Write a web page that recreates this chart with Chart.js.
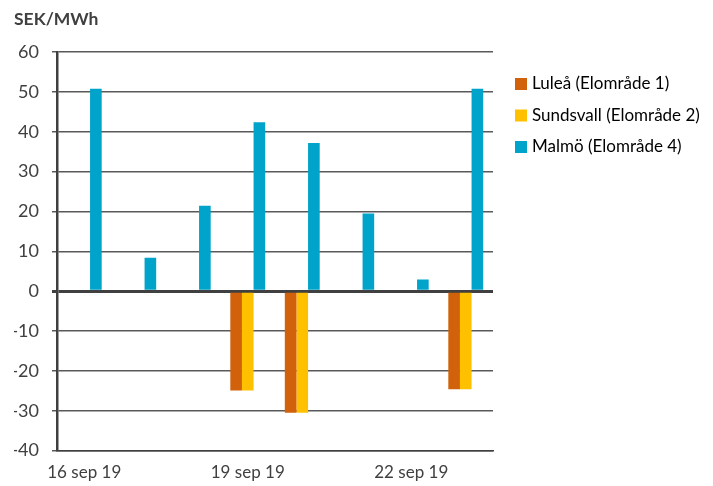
<!DOCTYPE html>
<html>
<head>
<meta charset="utf-8">
<script src="https://cdn.jsdelivr.net/npm/chart.js@4"></script>
<style>
  body { margin: 0; background: #fff; }
  #wrap { width: 713px; height: 486px; }
</style>
</head>
<body>
<div id="wrap"><canvas id="chart" width="713" height="486"></canvas></div>
<script>
const dates = ["16 sep 19", "17 sep 19", "18 sep 19", "19 sep 19", "20 sep 19", "21 sep 19", "22 sep 19", "23 sep 19"];
const lulea = [null, null, null, -24.9, -30.5, null, null, -24.6];
const sundsvall = [null, null, null, -24.9, -30.5, null, null, -24.6];
const malmo = [50.8, 8.4, 21.4, 42.4, 37.2, 19.5, 2.9, 50.8];

Chart.defaults.font.family = "Lato, 'Open Sans', sans-serif";
Chart.defaults.color = "#404040";

// legend drawn by hand so it sits where the original has it
const sideLegend = {
  id: "sideLegend",
  afterDraw(c) {
    const ctx = c.ctx;
    ctx.save();
    ctx.font = "17px Lato, 'Open Sans', sans-serif";
    ctx.textBaseline = "middle";
    ctx.textAlign = "left";
    c.data.datasets.forEach((ds, i) => {
      const y = 84 + i * 31.5;
      ctx.fillStyle = ds.backgroundColor;
      ctx.fillRect(515, y - 6, 12, 12);
      ctx.fillStyle = "#000";
      ctx.fillText(ds.label, 532, y);
    });
    ctx.restore();
  },
};

let chart = new Chart(document.getElementById("chart"), {
  type: "bar",
  data: {
    labels: dates,
    datasets: [
      { label: "Luleå (Elområde 1)", data: lulea, backgroundColor: "#D1620B" },
      { label: "Sundsvall (Elområde 2)", data: sundsvall, backgroundColor: "#FFC000" },
      { label: "Malmö (Elområde 4)", data: malmo, backgroundColor: "#00A3CA" },
    ],
  },
  plugins: [sideLegend],
  options: {
    responsive: false,
    animation: false,
    layout: { padding: { left: 14, right: 220, top: 4, bottom: -9 } },
    datasets: { bar: { categoryPercentage: 0.64, barPercentage: 1.0 } },
    plugins: {
      tooltip: { enabled: false },
      legend: { display: false },
      title: {
        display: true,
        text: "SEK/MWh",
        align: "start",
        color: "#404040",
        font: { size: 17.5, weight: "bold" },
        padding: { top: 5, bottom: 22 },
      },
    },
    scales: {
      x: {
        grid: { display: false, drawTicks: false },
        border: { display: true, color: "#404040", width: 1.5 },
        ticks: {
          autoSkip: false,
          maxRotation: 0,
          padding: 12,
          font: { size: 17 },
          color: "#404040",
          callback: function (value, index) {
            return index % 3 === 0 ? dates[index] : "";
          },
        },
      },
      y: {
        min: -40,
        max: 60,
        afterFit: (scale) => { scale.width = 43; },
        ticks: { stepSize: 10, padding: 13, font: { size: 18 }, color: "#404040" },
        border: { display: true, color: "#404040", width: 2.5 },
        grid: {
          tickLength: 5,
          color: (ctx) => (ctx.tick && ctx.tick.value === 0 ? "#404040" : "#595959"),
          lineWidth: (ctx) => (ctx.tick && ctx.tick.value === 0 ? 3 : 1.5),
        },
      },
    },
  },
});
</script>
</body>
</html>
